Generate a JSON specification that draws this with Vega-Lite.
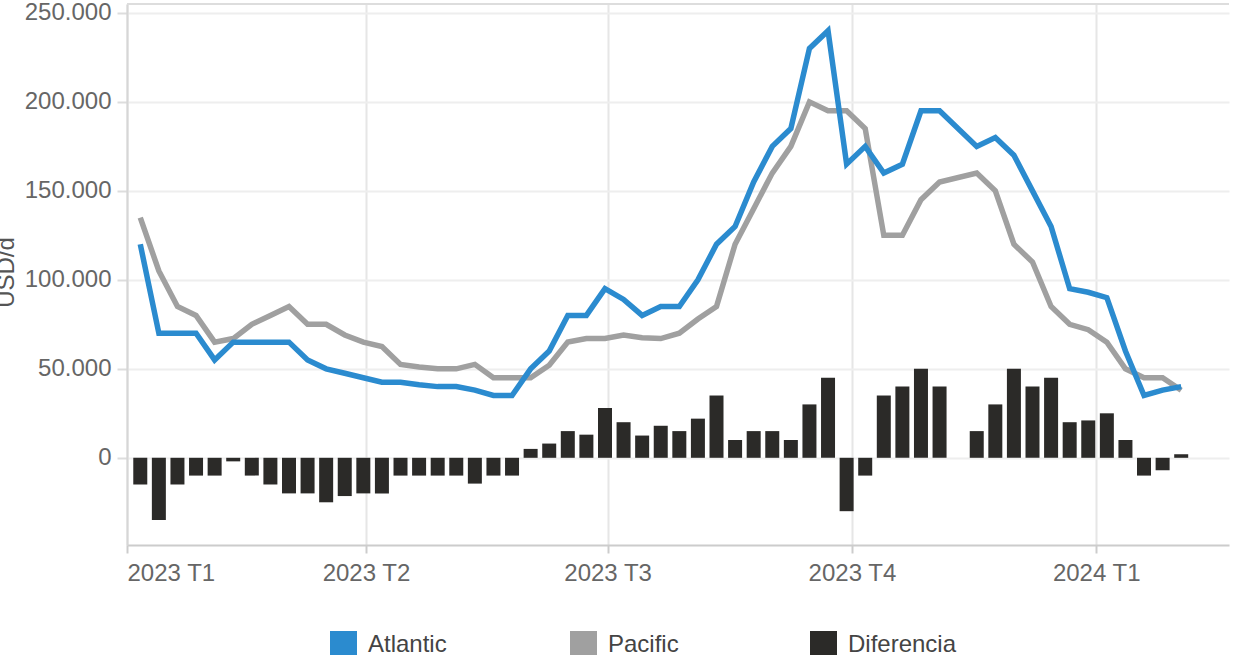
{
  "$schema": "https://vega.github.io/schema/vega-lite/v6.json",
  "width": 1102,
  "height": 541,
  "autosize": {"type": "none"},
  "padding": {"left": 127, "top": 4, "right": 12, "bottom": 110},
  "background": "white",
  "config": {
    "font": "Liberation Sans",
    "view": {"stroke": null}
  },
  "data": {"values": [
    {"date": "2023/01/06", "Atlantic": 120000, "Pacific": 135000, "Diferencia": -15000},
    {"date": "2023/01/13", "Atlantic": 70000, "Pacific": 105000, "Diferencia": -35000},
    {"date": "2023/01/20", "Atlantic": 70000, "Pacific": 85000, "Diferencia": -15000},
    {"date": "2023/01/27", "Atlantic": 70000, "Pacific": 80000, "Diferencia": -10000},
    {"date": "2023/02/03", "Atlantic": 55000, "Pacific": 65000, "Diferencia": -10000},
    {"date": "2023/02/10", "Atlantic": 65000, "Pacific": 67000, "Diferencia": -2000},
    {"date": "2023/02/17", "Atlantic": 65000, "Pacific": 75000, "Diferencia": -10000},
    {"date": "2023/02/24", "Atlantic": 65000, "Pacific": 80000, "Diferencia": -15000},
    {"date": "2023/03/03", "Atlantic": 65000, "Pacific": 85000, "Diferencia": -20000},
    {"date": "2023/03/10", "Atlantic": 55000, "Pacific": 75000, "Diferencia": -20000},
    {"date": "2023/03/17", "Atlantic": 50000, "Pacific": 75000, "Diferencia": -25000},
    {"date": "2023/03/24", "Atlantic": 47500, "Pacific": 69000, "Diferencia": -21500},
    {"date": "2023/03/31", "Atlantic": 45000, "Pacific": 65000, "Diferencia": -20000},
    {"date": "2023/04/07", "Atlantic": 42500, "Pacific": 62500, "Diferencia": -20000},
    {"date": "2023/04/14", "Atlantic": 42500, "Pacific": 52500, "Diferencia": -10000},
    {"date": "2023/04/21", "Atlantic": 41000, "Pacific": 51000, "Diferencia": -10000},
    {"date": "2023/04/28", "Atlantic": 40000, "Pacific": 50000, "Diferencia": -10000},
    {"date": "2023/05/05", "Atlantic": 40000, "Pacific": 50000, "Diferencia": -10000},
    {"date": "2023/05/12", "Atlantic": 38000, "Pacific": 52500, "Diferencia": -14500},
    {"date": "2023/05/19", "Atlantic": 35000, "Pacific": 45000, "Diferencia": -10000},
    {"date": "2023/05/26", "Atlantic": 35000, "Pacific": 45000, "Diferencia": -10000},
    {"date": "2023/06/02", "Atlantic": 50000, "Pacific": 45000, "Diferencia": 5000},
    {"date": "2023/06/09", "Atlantic": 60000, "Pacific": 52000, "Diferencia": 8000},
    {"date": "2023/06/16", "Atlantic": 80000, "Pacific": 65000, "Diferencia": 15000},
    {"date": "2023/06/23", "Atlantic": 80000, "Pacific": 67000, "Diferencia": 13000},
    {"date": "2023/06/30", "Atlantic": 95000, "Pacific": 67000, "Diferencia": 28000},
    {"date": "2023/07/07", "Atlantic": 89000, "Pacific": 69000, "Diferencia": 20000},
    {"date": "2023/07/14", "Atlantic": 80000, "Pacific": 67500, "Diferencia": 12500},
    {"date": "2023/07/21", "Atlantic": 85000, "Pacific": 67000, "Diferencia": 18000},
    {"date": "2023/07/28", "Atlantic": 85000, "Pacific": 70000, "Diferencia": 15000},
    {"date": "2023/08/04", "Atlantic": 100000, "Pacific": 78000, "Diferencia": 22000},
    {"date": "2023/08/11", "Atlantic": 120000, "Pacific": 85000, "Diferencia": 35000},
    {"date": "2023/08/18", "Atlantic": 130000, "Pacific": 120000, "Diferencia": 10000},
    {"date": "2023/08/25", "Atlantic": 155000, "Pacific": 140000, "Diferencia": 15000},
    {"date": "2023/09/01", "Atlantic": 175000, "Pacific": 160000, "Diferencia": 15000},
    {"date": "2023/09/08", "Atlantic": 185000, "Pacific": 175000, "Diferencia": 10000},
    {"date": "2023/09/15", "Atlantic": 230000, "Pacific": 200000, "Diferencia": 30000},
    {"date": "2023/09/22", "Atlantic": 240000, "Pacific": 195000, "Diferencia": 45000},
    {"date": "2023/09/29", "Atlantic": 165000, "Pacific": 195000, "Diferencia": -30000},
    {"date": "2023/10/06", "Atlantic": 175000, "Pacific": 185000, "Diferencia": -10000},
    {"date": "2023/10/13", "Atlantic": 160000, "Pacific": 125000, "Diferencia": 35000},
    {"date": "2023/10/20", "Atlantic": 165000, "Pacific": 125000, "Diferencia": 40000},
    {"date": "2023/10/27", "Atlantic": 195000, "Pacific": 145000, "Diferencia": 50000},
    {"date": "2023/11/03", "Atlantic": 195000, "Pacific": 155000, "Diferencia": 40000},
    {"date": "2023/11/17", "Atlantic": 175000, "Pacific": 160000, "Diferencia": 15000},
    {"date": "2023/11/24", "Atlantic": 180000, "Pacific": 150000, "Diferencia": 30000},
    {"date": "2023/12/01", "Atlantic": 170000, "Pacific": 120000, "Diferencia": 50000},
    {"date": "2023/12/08", "Atlantic": 150000, "Pacific": 110000, "Diferencia": 40000},
    {"date": "2023/12/15", "Atlantic": 130000, "Pacific": 85000, "Diferencia": 45000},
    {"date": "2023/12/22", "Atlantic": 95000, "Pacific": 75000, "Diferencia": 20000},
    {"date": "2023/12/29", "Atlantic": 93000, "Pacific": 72000, "Diferencia": 21000},
    {"date": "2024/01/05", "Atlantic": 90000, "Pacific": 65000, "Diferencia": 25000},
    {"date": "2024/01/12", "Atlantic": 60000, "Pacific": 50000, "Diferencia": 10000},
    {"date": "2024/01/19", "Atlantic": 35000, "Pacific": 45000, "Diferencia": -10000},
    {"date": "2024/01/26", "Atlantic": 38000, "Pacific": 45000, "Diferencia": -7000},
    {"date": "2024/02/02", "Atlantic": 40000, "Pacific": 38000, "Diferencia": 2000}
  ]},
  "layer": [
    {
      "data": {"values": [{"top": 255000}]},
      "mark": {"type": "rule", "color": "#dddddd", "strokeWidth": 2},
      "encoding": {
        "y": {"field": "top", "type": "quantitative", "scale": {"domain": [-49000, 255000]}, "title": "USD/d"}
      }
    },
    {
      "mark": {"type": "bar", "width": 14},
      "encoding": {
        "x": {
          "field": "date", "type": "temporal",
          "scale": {"domain": [{"year": 2023, "month": 1, "date": 1}, {"year": 2024, "month": 2, "date": 20}], "padding": 0},
          "axis": {
            "title": null,
            "values": [
              {"year": 2023, "month": 1, "date": 1},
              {"year": 2023, "month": 4, "date": 1},
              {"year": 2023, "month": 7, "date": 1},
              {"year": 2023, "month": 10, "date": 1},
              {"year": 2024, "month": 1, "date": 1}
            ],
            "labelExpr": "timeFormat(datum.value, '%Y') + ' T' + quarter(datum.value)",
            "labelFlush": true,
            "grid": true, "gridColor": "#e6e6e6", "gridWidth": 2,
            "domainColor": "#cccccc", "domainWidth": 2,
            "tickColor": "#cccccc", "tickWidth": 2, "tickSize": 8,
            "labelFontSize": 24, "labelColor": "#666666", "labelPadding": 8
          }
        },
        "y": {
          "field": "Diferencia", "type": "quantitative",
          "scale": {"domain": [-49000, 255000]},
          "title": "USD/d",
          "axis": {
            "values": [0, 50000, 100000, 150000, 200000, 250000],
            "labelExpr": "replace(format(datum.value, ','), regexp(',', 'g'), '.')",
            "grid": true, "gridColor": "#eeeeee", "gridWidth": 2,
            "domainColor": "#d6d6d6", "domainWidth": 2,
            "tickColor": "#dddddd", "tickWidth": 2, "tickSize": 10,
            "labelFontSize": 24, "labelColor": "#666666", "labelPadding": 6,
            "titleFontSize": 24, "titleColor": "#555555", "titleFontWeight": "normal",
            "titleAngle": 270, "titleBaseline": "alphabetic", "titleAlign": "center",
            "titleX": -114, "titleY": 268
          }
        },
        "color": {
          "datum": "Diferencia", "type": "nominal",
          "scale": {"domain": ["Atlantic", "Pacific", "Diferencia"], "range": ["#2B8BCF", "#A0A0A0", "#2B2A28"]},
          "legend": {
            "title": null,
            "orient": "none", "legendX": 203, "legendY": 627,
            "direction": "horizontal", "columns": 3, "gridAlign": "all", "columnPadding": 93,
            "symbolType": "square", "symbolSize": 729, "symbolStrokeWidth": 0,
            "labelFontSize": 24, "labelColor": "#444444", "labelOffset": 11,
            "encode": {"symbols": {"update": {"fill": {"scale": "color", "field": "value"}, "stroke": {"value": "transparent"}, "opacity": {"value": 1}}}}
          }
        }
      }
    },
    {
      "mark": {"type": "line", "strokeWidth": 5.5},
      "encoding": {
        "x": {"field": "date", "type": "temporal"},
        "y": {"field": "Pacific", "type": "quantitative", "scale": {"domain": [-49000, 255000]}, "title": "USD/d"},
        "color": {"datum": "Pacific", "type": "nominal"}
      }
    },
    {
      "mark": {"type": "line", "strokeWidth": 5.5},
      "encoding": {
        "x": {"field": "date", "type": "temporal"},
        "y": {"field": "Atlantic", "type": "quantitative", "scale": {"domain": [-49000, 255000]}, "title": "USD/d"},
        "color": {"datum": "Atlantic", "type": "nominal"}
      }
    }
  ]
}
